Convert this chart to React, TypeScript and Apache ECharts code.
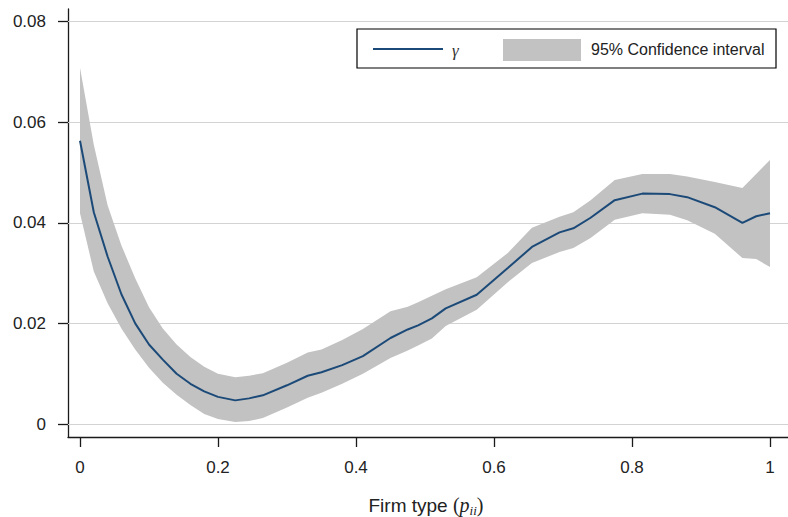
import React, { useEffect, useRef } from "react";
import * as echarts from "echarts";

// Firm type positions (x) and estimated values
const xs = [0, 0.02, 0.04, 0.06, 0.08, 0.1, 0.12, 0.14, 0.16, 0.18, 0.2, 0.225, 0.245, 0.265, 0.3, 0.33, 0.35, 0.38, 0.41, 0.45, 0.475, 0.49, 0.51, 0.53, 0.575, 0.62, 0.655, 0.695, 0.715, 0.74, 0.775, 0.815, 0.855, 0.88, 0.92, 0.96, 0.98, 1.0];
const gamma = [0.0563, 0.0421, 0.0333, 0.0258, 0.02, 0.0158, 0.0128, 0.01, 0.008, 0.0065, 0.0054, 0.0047, 0.0051, 0.0057, 0.0077, 0.0096, 0.0103, 0.0117, 0.0135, 0.0171, 0.0188, 0.0196, 0.021, 0.023, 0.0257, 0.031, 0.0352, 0.0381, 0.0389, 0.041, 0.0445, 0.0458, 0.0457, 0.0451, 0.0431, 0.04, 0.0413, 0.0419];
const ciUpper = [0.0708, 0.0555, 0.0435, 0.0355, 0.029, 0.0232, 0.019, 0.0158, 0.0133, 0.0114, 0.01, 0.0093, 0.0096, 0.0101, 0.0122, 0.0142, 0.0148, 0.0167, 0.0189, 0.0224, 0.0233, 0.0242, 0.0255, 0.0268, 0.0292, 0.034, 0.039, 0.0412, 0.0421, 0.0445, 0.0485, 0.0497, 0.0497, 0.0492, 0.0481, 0.0469, 0.0497, 0.0525];
const ciLower = [0.0419, 0.0303, 0.024, 0.019, 0.0148, 0.0112, 0.0082, 0.0058, 0.0038, 0.002, 0.001, 0.0004, 0.0006, 0.0012, 0.0033, 0.0052, 0.0062, 0.008, 0.01, 0.0131, 0.0146, 0.0156, 0.017, 0.0195, 0.0227, 0.0282, 0.032, 0.0342, 0.035, 0.037, 0.0406, 0.0419, 0.0416, 0.0405, 0.0378, 0.033, 0.0328, 0.0312];

const yTicks = [0, 0.02, 0.04, 0.06, 0.08];
const xTicks = [0, 0.2, 0.4, 0.6, 0.8, 1];
const yTickLabels = ["0", "0.02", "0.04", "0.06", "0.08"];
const xTickLabels = ["0", "0.2", "0.4", "0.6", "0.8", "1"];

const LINE_COLOR = "#1c4a78";
const BAND_COLOR = "#c2c2c2";
const SANS = "'Liberation Sans', Arial, Helvetica, sans-serif";
const SERIF = "'Liberation Serif', 'DejaVu Serif', serif";

export default function App() {
  const ref = useRef<HTMLDivElement>(null);

  useEffect(() => {
    if (!ref.current) return;
    const chart = echarts.init(ref.current, null, { renderer: "svg" });

    const gammaPairs = xs.map((x, i) => [x, gamma[i]]);

    const option: any = {
      animation: false,
      backgroundColor: "#ffffff",
      grid: { left: 68, right: 0, top: 9, bottom: 80, containLabel: false },
      xAxis: {
        type: "value",
        min: -0.01739,
        max: 1.0261,
        axisLine: { show: true, onZero: false, lineStyle: { color: "#1a1a1a", width: 1.3 } },
        axisTick: { show: true, length: 10, customValues: xTicks, lineStyle: { color: "#1a1a1a", width: 1.3 } },
        axisLabel: {
          show: true,
          customValues: xTicks,
          margin: 22,
          fontSize: 17,
          fontFamily: SANS,
          color: "#222",
          formatter: (v: number) => {
            const idx = xTicks.findIndex((t) => Math.abs(t - v) < 1e-9);
            return idx >= 0 ? xTickLabels[idx] : "";
          },
        },
        splitLine: { show: false },
      },
      yAxis: {
        type: "value",
        min: -0.00258,
        max: 0.0825,
        axisLine: { show: true, onZero: false, lineStyle: { color: "#1a1a1a", width: 1.3 } },
        axisTick: { show: true, length: 10, customValues: yTicks, lineStyle: { color: "#1a1a1a", width: 1.3 } },
        axisLabel: {
          show: true,
          customValues: yTicks,
          margin: 22,
          fontSize: 17,
          fontFamily: SANS,
          color: "#222",
          formatter: (v: number) => {
            const idx = yTicks.findIndex((t) => Math.abs(t - v) < 1e-9);
            return idx >= 0 ? yTickLabels[idx] : "";
          },
        },
        splitLine: { show: false },
      },
      series: [
        {
          name: "grid",
          type: "line",
          data: [],
          z: 1,
          silent: true,
          markLine: {
            silent: true,
            z: 1,
            symbol: ["none", "none"],
            label: { show: false },
            lineStyle: { color: "#d3d3d3", width: 1.2, type: "solid" },
            data: yTicks.map((v) => ({ yAxis: v })),
          },
        },
        {
          name: "95% Confidence interval",
          type: "custom",
          z: 2,
          silent: true,
          data: [0],
          renderItem: (params: any, api: any) => {
            const upperPts = xs.map((x, i) => api.coord([x, ciUpper[i]]));
            const lowerPts = xs
              .map((x, i) => api.coord([x, ciLower[i]]))
              .reverse();
            return {
              type: "polygon",
              shape: { points: upperPts.concat(lowerPts) },
              style: { fill: BAND_COLOR, stroke: "none" },
            };
          },
        },
        {
          name: "γ",
          type: "line",
          data: gammaPairs,
          symbol: "none",
          z: 4,
          lineStyle: { color: LINE_COLOR, width: 2 },
        },
      ],
      graphic: [
        {
          type: "rect",
          z: 10,
          shape: { x: 357, y: 29, width: 419, height: 39 },
          style: { fill: "#ffffff", stroke: "#000000", lineWidth: 1.2 },
        },
        {
          type: "line",
          z: 11,
          shape: { x1: 373, y1: 49, x2: 443, y2: 49 },
          style: { stroke: LINE_COLOR, lineWidth: 2 },
        },
        {
          type: "text",
          z: 11,
          x: 452,
          y: 50,
          style: {
            text: "γ",
            font: `italic 17px ${SERIF}`,
            fill: "#333",
            align: "left",
            verticalAlign: "middle",
          },
        },
        {
          type: "rect",
          z: 11,
          shape: { x: 503, y: 39, width: 78, height: 22 },
          style: { fill: BAND_COLOR },
        },
        {
          type: "text",
          z: 11,
          x: 591,
          y: 49,
          style: {
            text: "95% Confidence interval",
            font: `16px ${SANS}`,
            fill: "#222",
            align: "left",
            verticalAlign: "middle",
          },
        },
        {
          type: "text",
          z: 11,
          x: 426,
          y: 505,
          style: {
            text: "{a|Firm type }{b|(}{p|p}{s|ii}{b|)}",
            align: "center",
            verticalAlign: "middle",
            rich: {
              a: { fontSize: 19, fontFamily: SANS, fill: "#222", lineHeight: 24, verticalAlign: "middle" },
              b: { fontSize: 20, fontFamily: SERIF, fill: "#222", lineHeight: 24, verticalAlign: "middle" },
              p: { fontSize: 20, fontFamily: SERIF, fontStyle: "italic", fill: "#222", lineHeight: 24, verticalAlign: "middle" },
              s: { fontSize: 13, fontFamily: SERIF, fontStyle: "italic", fill: "#222", lineHeight: 13, verticalAlign: "bottom" },
            },
          },
        },
      ],
    };

    chart.setOption(option);
    return () => chart.dispose();
  }, []);

  return (
    <div
      ref={ref}
      style={{ position: "absolute", left: 0, top: 0, width: 788, height: 517 }}
    />
  );
}
